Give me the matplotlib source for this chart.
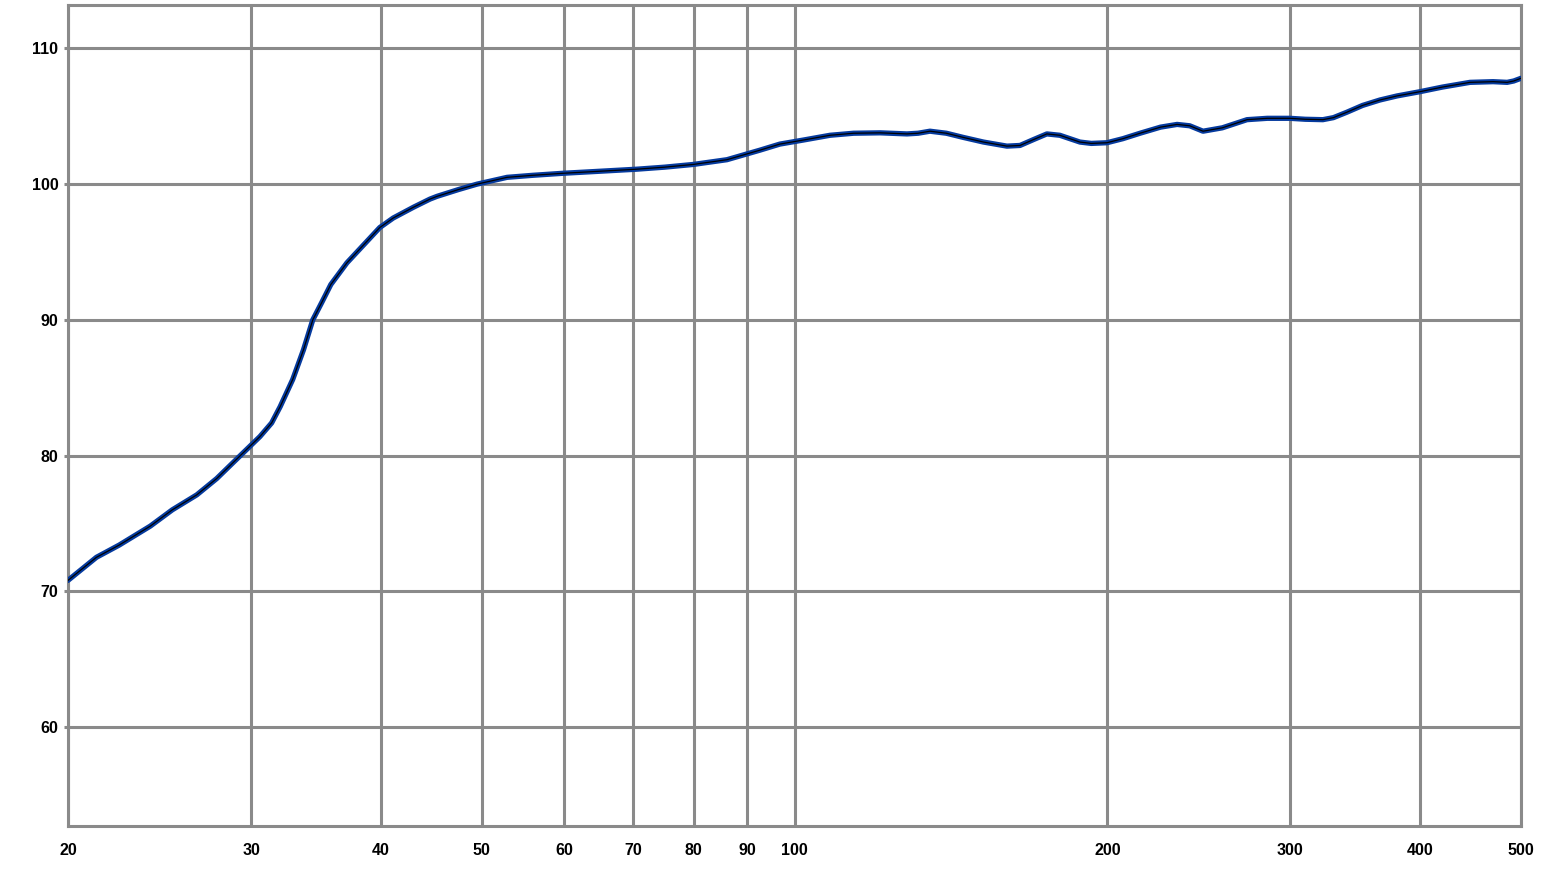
import matplotlib
matplotlib.use("Agg")
import matplotlib.pyplot as plt
from matplotlib.ticker import NullLocator

# Frequency response (Hz, dB)
freq = [20.0, 21.3, 22.4, 24.0, 25.2, 26.6, 27.8, 29.3, 30.6, 31.4, 32.0,
        32.9, 33.7, 34.4, 35.1, 35.8, 37.1, 38.8, 39.9, 41.1, 43.0, 44.6,
        45.3, 47.5, 49.5, 52.9, 56.0, 59.9, 65.0, 70.5, 75.0, 79.9, 86.1,
        92.6, 96.8, 102.0, 108.2, 114.0, 120.9, 128.3, 131.5, 135.0, 140.0,
        145.2, 152.0, 160.1, 164.8, 170.0, 174.9, 180.0, 188.2, 193.0,
        199.8, 207.0, 215.0, 225.0, 233.4, 240.0, 247.2, 258.0, 272.5,
        285.0, 299.7, 310.0, 322.4, 330.0, 340.0, 352.0, 365.8, 380.0,
        399.0, 420.0, 446.6, 470.0, 484.9, 492.0, 500.0]
level = [70.8, 72.5, 73.4, 74.8, 76.0, 77.1, 78.3, 80.0, 81.4, 82.4, 83.6,
         85.6, 87.8, 90.0, 91.3, 92.6, 94.2, 95.8, 96.8, 97.5, 98.3, 98.9,
         99.1, 99.6, 100.0, 100.5, 100.65, 100.8, 100.95, 101.1, 101.25,
         101.45, 101.8, 102.5, 102.95, 103.25, 103.6, 103.75, 103.78, 103.7,
         103.75, 103.9, 103.75, 103.45, 103.1, 102.8, 102.85, 103.3, 103.7,
         103.6, 103.1, 103.0, 103.05, 103.35, 103.75, 104.2, 104.4, 104.3,
         103.9, 104.15, 104.75, 104.85, 104.85, 104.78, 104.75, 104.9,
         105.3, 105.8, 106.2, 106.5, 106.8, 107.15, 107.5, 107.55, 107.5,
         107.6, 107.8]

x_ticks = [20, 30, 40, 50, 60, 70, 80, 90, 100, 200, 300, 400, 500]
y_ticks = [60, 70, 80, 90, 100, 110]

GRID = "#8a8a8a"
LINE = "#053a9e"

fig = plt.figure(figsize=(15.5, 8.81), dpi=100)
ax = fig.add_axes([68 / 1550, 55 / 881, 1453 / 1550, 821 / 881])

ax.plot(freq, level, color=LINE, lw=3.8, solid_capstyle="round",
        solid_joinstyle="round", zorder=3)
ax.plot(freq, level, color="black", lw=0.9, solid_joinstyle="round", zorder=4)

ax.set_xscale("log")
ax.set_xlim(20, 500)
ax.set_ylim(52.7, 113.2)
ax.set_xticks(x_ticks)
ax.set_xticklabels([str(v) for v in x_ticks])
ax.xaxis.set_minor_locator(NullLocator())
ax.set_yticks(y_ticks)
ax.set_yticklabels([str(v) for v in y_ticks])

ax.grid(True, color=GRID, lw=2.2)
ax.set_axisbelow(True)
for s in ax.spines.values():
    s.set_color(GRID)
    s.set_linewidth(2.2)

ax.tick_params(axis="x", length=0, pad=12)
ax.tick_params(axis="y", length=3, width=2.2, color=GRID, pad=4)
for lab in ax.get_xticklabels() + ax.get_yticklabels():
    lab.set_fontfamily("Liberation Sans")
    lab.set_fontweight("bold")
    lab.set_fontsize(11.5)

fig.savefig("out.png", dpi=100)
